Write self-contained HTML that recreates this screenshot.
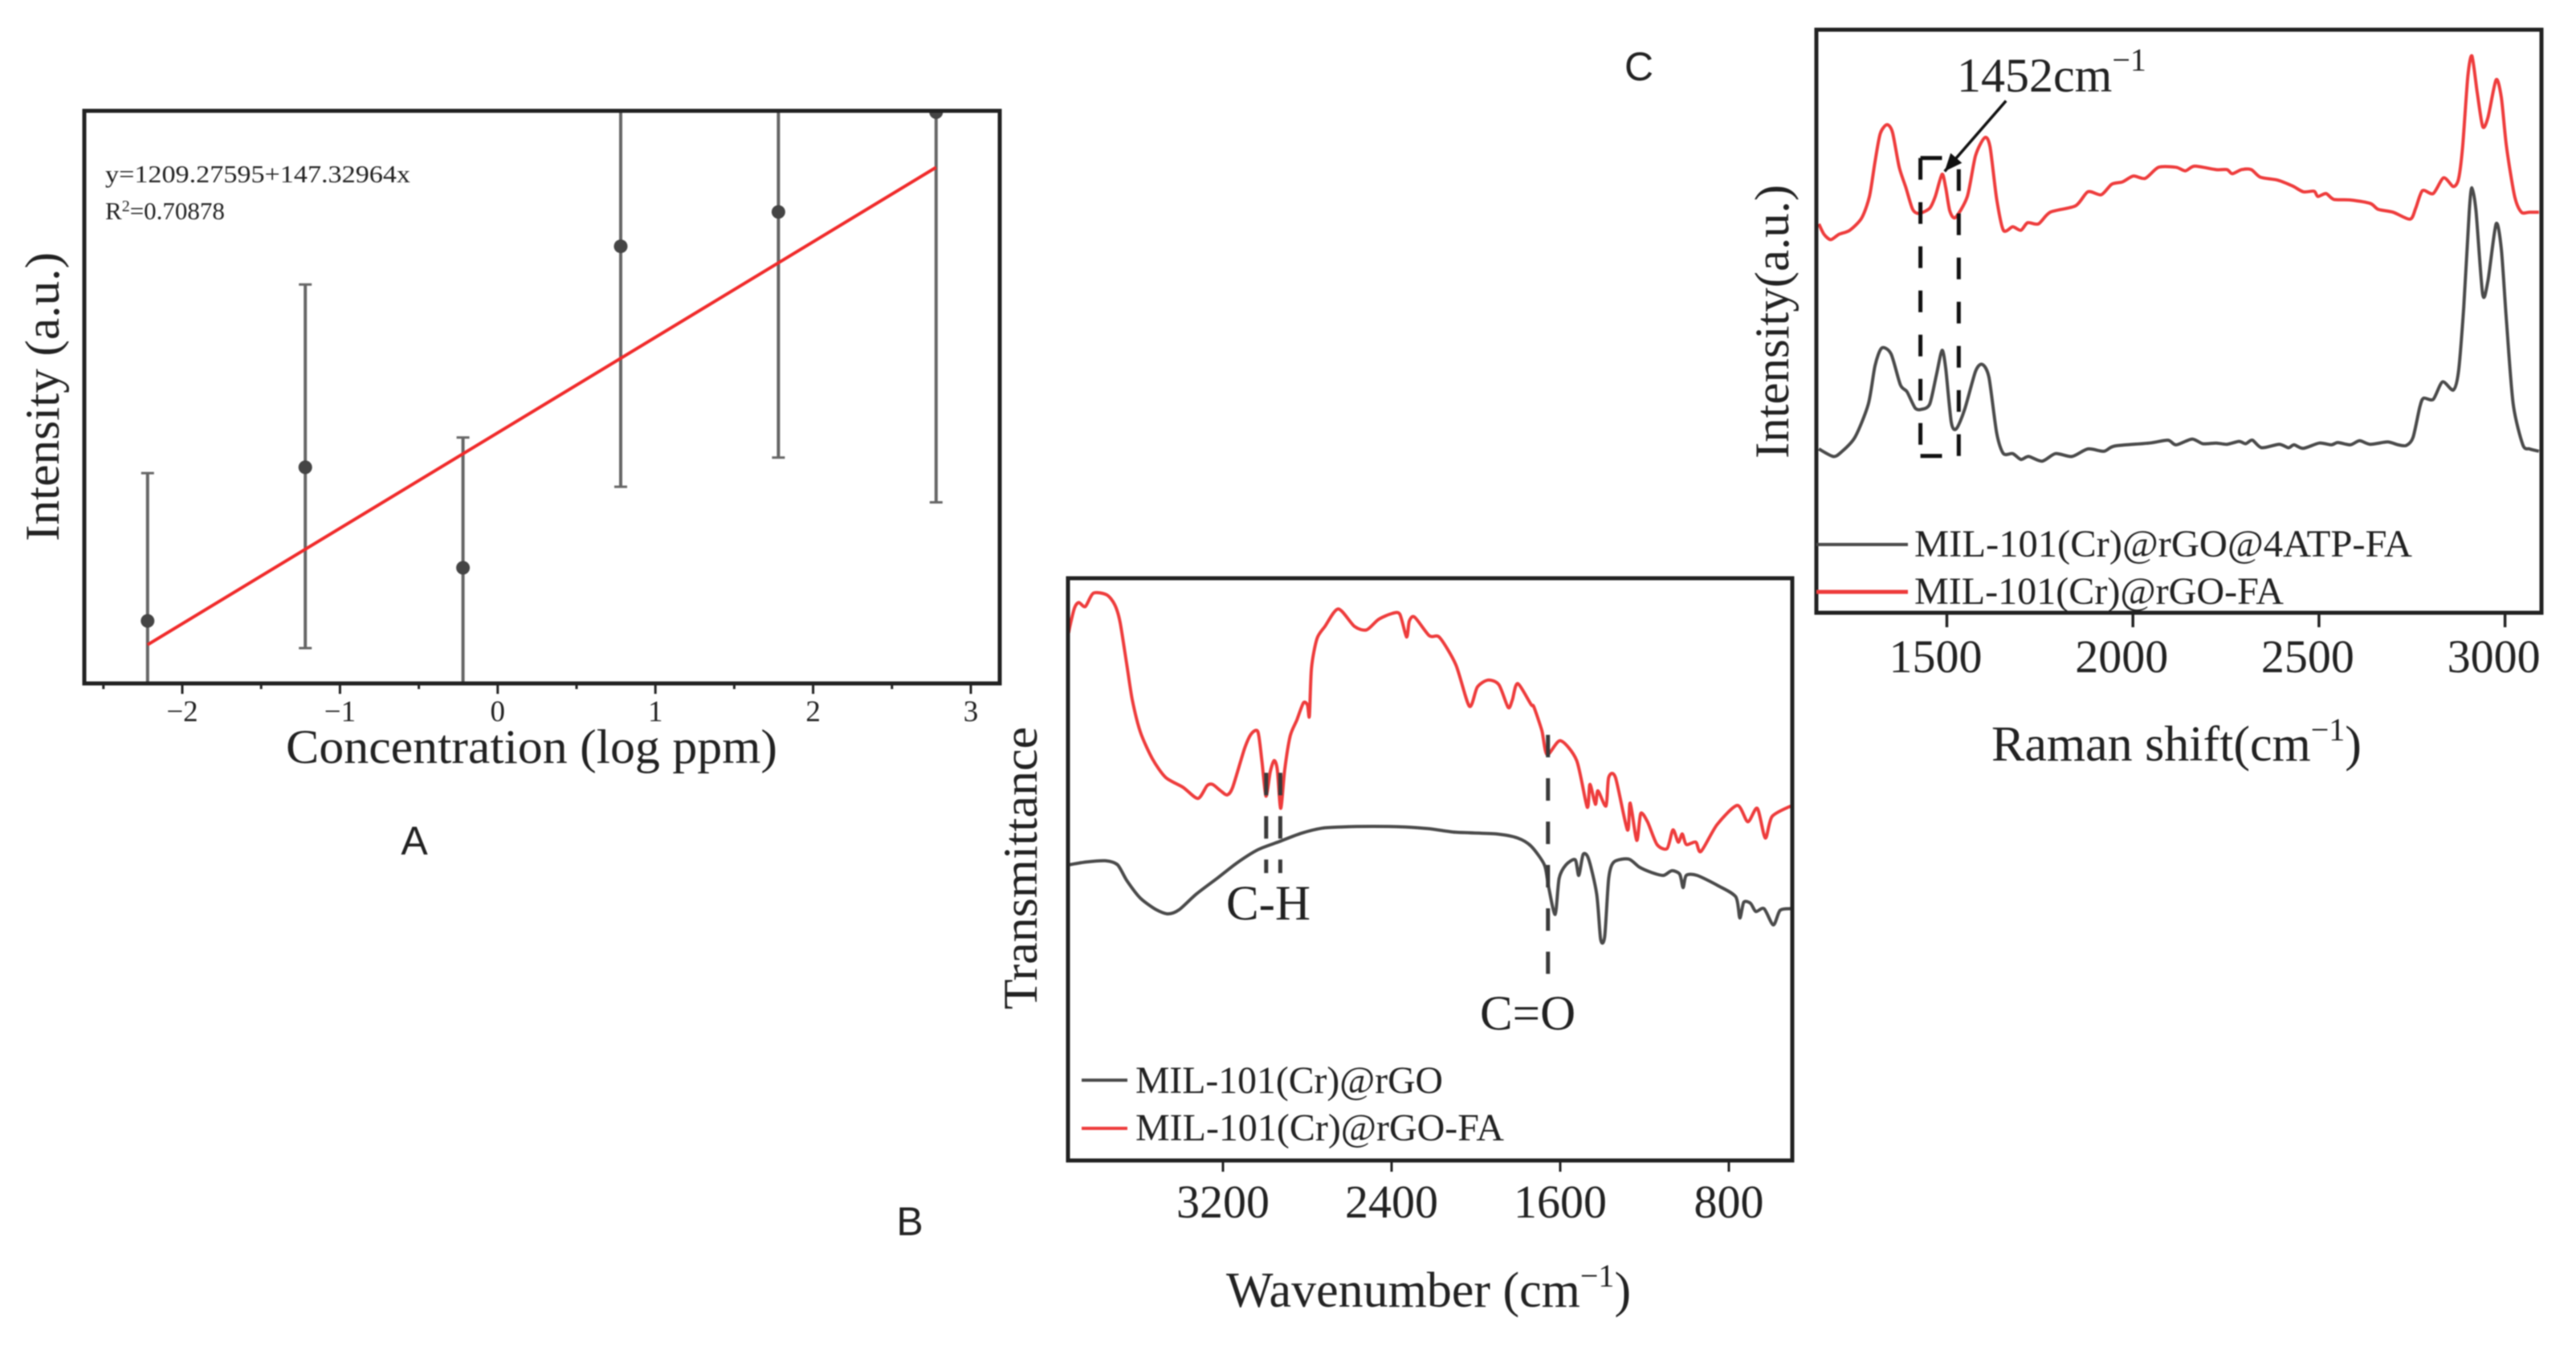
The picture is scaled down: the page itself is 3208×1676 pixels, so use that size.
<!DOCTYPE html>
<html lang="en">
<head>
<meta charset="utf-8">
<title>Panels A, B and C: calibration, FTIR and Raman spectra</title>
<style>
html,body{margin:0;padding:0;background:#fff;}
svg{display:block;filter:blur(0.8px);}
text{font-family:"Liberation Serif",serif;fill:#222;}
.sans{font-family:"Liberation Sans",sans-serif;}
</style>
</head>
<body>
<svg id="fig" xmlns="http://www.w3.org/2000/svg" width="3208" height="1676" viewBox="0 0 3208 1676">
  <rect x="0" y="0" width="3208" height="1676" fill="#fff"/>
  <defs>
    <clipPath id="clipA"><rect x="105" y="138" width="1140" height="713"/></clipPath>
  </defs>

  <g id="panelA">
    <g id="marksA" clip-path="url(#clipA)"></g>
    <g id="ticksA"></g>
    <rect x="105" y="138" width="1140" height="713" fill="none" stroke="#222" stroke-width="5"/>
    <text x="131" y="227" font-size="31" textLength="380" lengthAdjust="spacingAndGlyphs">y=1209.27595+147.32964x</text>
    <text x="131" y="273" font-size="31">R<tspan dy="-10" font-size="20">2</tspan><tspan dy="10">=0.70878</tspan></text>
    <text x="356" y="950" font-size="60" textLength="612" lengthAdjust="spacingAndGlyphs">Concentration (log ppm)</text>
    <text transform="translate(73,674) rotate(-90)" font-size="60" textLength="360" lengthAdjust="spacingAndGlyphs">Intensity (a.u.)</text>
    <text class="sans" x="516" y="1064" font-size="50" text-anchor="middle">A</text>
  </g>

  <g id="panelB">
    <g id="marksB"></g>
    <g id="ticksB"></g>
    <rect x="1330" y="720" width="902" height="725" fill="none" stroke="#222" stroke-width="5"/>
    <text x="1527" y="1145" font-size="61">C-H</text>
    <text x="1843" y="1282" font-size="61">C=O</text>
    <line x1="1347" y1="1345" x2="1404" y2="1345" stroke="#4a4a4a" stroke-width="4"/>
    <text x="1414" y="1361" font-size="48" fill="#333" textLength="383" lengthAdjust="spacingAndGlyphs">MIL-101(Cr)@rGO</text>
    <line x1="1347" y1="1405" x2="1404" y2="1405" stroke="#ee3c3c" stroke-width="4"/>
    <text x="1414" y="1420" font-size="48" fill="#333" textLength="459" lengthAdjust="spacingAndGlyphs">MIL-101(Cr)@rGO-FA</text>
    <text x="1527" y="1627" font-size="62">Wavenumber (cm<tspan dy="-25" font-size="40">−1</tspan><tspan dy="25">)</tspan></text>
    <text transform="translate(1291,1257) rotate(-90)" font-size="60" textLength="352" lengthAdjust="spacingAndGlyphs">Transmittance</text>
    <text class="sans" x="1133" y="1538" font-size="50" text-anchor="middle">B</text>
  </g>

  <g id="panelC">
    <g id="marksC"></g>
    <g id="ticksC"></g>
    <rect x="2262" y="37" width="903" height="726" fill="none" stroke="#222" stroke-width="5"/>
    <text x="2437" y="114" font-size="60">1452cm<tspan dy="-26" font-size="40">−1</tspan></text>
    <line x1="2262" y1="678" x2="2376" y2="678" stroke="#4a4a4a" stroke-width="4"/>
    <text x="2384" y="693" font-size="48" fill="#333" textLength="620" lengthAdjust="spacingAndGlyphs">MIL-101(Cr)@rGO@4ATP-FA</text>
    <line x1="2262" y1="737" x2="2376" y2="737" stroke="#ee3c3c" stroke-width="5"/>
    <text x="2384" y="752" font-size="48" fill="#333" textLength="460" lengthAdjust="spacingAndGlyphs">MIL-101(Cr)@rGO-FA</text>
    <text x="2480" y="947" font-size="62">Raman shift(cm<tspan dy="-25" font-size="40">−1</tspan><tspan dy="25">)</tspan></text>
    <text transform="translate(2227,571) rotate(-90)" font-size="60" textLength="341" lengthAdjust="spacingAndGlyphs">Intensity(a.u.)</text>
    <text class="sans" x="2041" y="100" font-size="50" text-anchor="middle">C</text>
  </g>
</svg>

<script>
// Panel A data
const aConcentration = [-2.22, -1.22, -0.22, 0.78, 1.78, 2.78];
const aIntensity = [919, 1156, 1001, 1497, 1550, 1704];
const aErrLow = [690, 877, 800, 1126, 1171, 1102];
const aErrHigh = [1147, 1438, 1202, 1868, 1929, 2306];
const aFitIntercept = 1209.27595;
const aFitSlope = 147.32964;
const aMajorTicks = [-2, -1, 0, 1, 2, 3];
const aMinorTicks = [-2.5, -1.5, -0.5, 0.5, 1.5, 2.5];
const aTickLabels = ['−2', '−1', '0', '1', '2', '3'];

// Panel B data
const bTicks = [3200, 2400, 1600, 800];
const bTickLabels = ['3200', '2400', '1600', '800'];
const bWaveRed = [3932,3925,3904,3884,3853,3815,3751,3713,3688,3656,3630,3592,3535,3472,3389,3319,3275,3249,3211,3180,3154,3097,3065,3034,3015,2996,2976,2957,2942,2926,2907,2881,2850,2818,2799,2790,2780,2754,2716,2653,2576,2519,2462,2399,2361,2329,2316,2291,2221,2172,2095,2031,1993,1942,1891,1847,1827,1802,1738,1725,1687,1662,1599,1522,1472,1459,1433,1421,1383,1370,1338,1281,1268,1237,1218,1186,1141,1093,1065,1040,1021,1002,957,932,856,760,710,665,627,595,506];
const bTransRed = [90.5,91.8,94.8,95.7,95.0,97.3,97.0,95.3,92.3,85.0,79.0,73.5,68.9,65.7,64.0,62.1,64.3,64.5,63.4,62.7,64.0,70.7,73.2,73.5,68.4,62.5,66.6,68.6,67.0,60.4,67.0,72.8,75.5,78.5,78.1,76.2,84.5,89.5,91.6,94.6,91.6,91.0,92.8,93.8,93.7,89.8,92.5,93.2,90.0,89.7,85.0,77.9,81.2,82.4,81.6,77.7,79.0,81.8,78.2,77.8,73.7,69.6,72.0,68.6,60.6,64.5,61.1,63.4,60.8,65.7,65.7,56.7,61.3,54.9,59.5,58.1,54.2,53.5,56.7,54.6,56.0,54.2,54.6,53.0,57.6,60.9,58.1,60.4,55.3,59.0,60.8];
const bWaveGray = [3931,3846,3758,3700,3656,3592,3516,3459,3408,3326,3224,3135,3034,2932,2830,2729,2640,2488,2335,2221,2094,1903,1802,1738,1675,1656,1624,1605,1573,1529,1512,1491,1465,1427,1408,1389,1370,1345,1275,1224,1167,1110,1071,1033,1017,1002,951,849,767,748,729,697,672,633,589,557,506];
const bTransGray = [50.7,51.2,51.4,50.7,48.0,45.0,43.0,42.3,43.0,45.7,48.5,51.0,53.3,54.7,56.1,57.0,57.2,57.3,57.2,56.9,56.3,56.0,55.3,53.9,50.7,47.1,42.2,48.4,50.7,51.6,48.9,52.5,51.7,45.7,37.9,38.4,48.4,51.2,51.7,50.3,49.4,48.9,49.7,49.1,46.8,48.9,48.9,47.1,45.2,41.6,44.3,44.1,42.7,43.2,40.4,42.9,43.2];
const bGuideWaves = [2995, 2928, 1658];
const bGuideTop = [66.5, 66.5, 73.0];
const bGuideBottom = [49.3, 49.3, 32.0];

// Panel C data
const cTicks = [1500, 2000, 2500, 3000];
const cTickLabels = ['1500', '2000', '2500', '3000'];
const cShiftRed = [1156,1170,1188,1210,1239,1271,1292,1307,1321,1339,1354,1372,1390,1408,1426,1454,1469,1487,1497,1508,1523,1555,1577,1602,1616,1634,1652,1677,1699,1717,1746,1778,1846,1879,1915,1943,1972,2001,2033,2069,2116,2141,2166,2224,2253,2267,2292,2318,2343,2389,2429,2458,2487,2497,2519,2540,2584,2638,2659,2699,2745,2760,2778,2807,2835,2861,2875,2886,2900,2911,2925,2940,2954,2976,2990,3004,3026,3044,3066,3091];
const cIntensityRed = [66.7,64.9,64.0,64.9,65.6,67.7,71.4,77.4,82.2,83.7,82.4,76.4,72.9,69.2,68.5,69.4,71.4,75.2,72.9,68.9,67.8,71.4,78.4,81.5,79.9,70.9,65.6,66.2,65.6,66.9,66.7,68.7,69.8,72.2,71.7,73.5,73.9,74.9,74.5,76.4,76.4,75.8,76.6,76.0,76.0,75.3,76.0,76.0,74.7,74.2,73.2,72.2,72.3,71.4,71.9,70.9,70.8,70.2,69.2,68.7,67.5,69.4,72.4,71.9,74.6,73.1,74.4,79.9,92.0,95.5,89.4,83.4,84.9,91.4,88.4,79.9,71.4,68.7,68.7,68.7];
const cShiftGray = [1156,1195,1217,1253,1289,1307,1325,1350,1375,1393,1415,1433,1454,1472,1487,1497,1512,1526,1548,1577,1595,1613,1634,1652,1677,1699,1720,1756,1792,1836,1879,1922,1951,2044,2094,2116,2159,2188,2224,2253,2285,2303,2321,2346,2393,2418,2433,2458,2501,2533,2551,2584,2609,2638,2684,2713,2735,2753,2771,2781,2807,2832,2861,2875,2889,2904,2911,2922,2940,2954,2976,2990,3004,3022,3048,3066,3091];
const cIntensityGray = [28.1,26.8,27.6,30.1,35.8,42.4,45.4,44.4,39.1,37.9,35.1,34.9,35.8,40.8,45.0,41.9,32.6,31.6,34.9,41.4,42.6,40.4,30.8,27.3,27.3,26.3,26.8,26.0,27.3,26.8,28.1,27.7,28.6,29.1,29.6,28.8,29.8,29.0,29.1,28.9,29.4,29.0,29.6,28.3,28.9,28.3,28.8,28.2,29.1,28.8,29.2,28.8,29.5,28.9,29.3,28.8,28.7,30.1,35.3,36.8,36.6,39.6,38.2,41.4,52.4,68.9,72.9,68.9,54.6,56.9,66.7,62.4,49.9,35.8,28.8,28.1,27.7];
const cBoxLeft = 1429;
const cBoxRight = 1532;
const cBoxTop = 78.0;
const cBoxBottom = 26.9;
const cBoxCapEnd = 1487;
const cArrowStart = [1659, 87.8];
const cArrowEnd = [1494, 75.7];

// Axis functions
const xA = v => 227 + (v + 2) * 196.4;
const yA = v => 803 - (v - 882) * 0.807;
const xB = v => 1523 + (3200 - v) * 0.2625;
const yB = v => 1445 - v * 7.26;
const xC = v => 2424.5 + (v - 1500) * 0.4634;
const yC = v => 763 - v * 7.26;

const NS = 'http://www.w3.org/2000/svg';
function make(tag, attrs, parent) {
  const node = document.createElementNS(NS, tag);
  for (const k in attrs) node.setAttribute(k, attrs[k]);
  parent.appendChild(node);
  return node;
}
function smoothPath(xs, ys, fx, fy) {
  const pts = xs.map((x, i) => [fx(x), fy(ys[i])]);
  const k = 0.13;
  let d = 'M' + pts[0][0].toFixed(1) + ' ' + pts[0][1].toFixed(1);
  for (let i = 0; i < pts.length - 1; i++) {
    const p0 = pts[Math.max(i - 1, 0)], p1 = pts[i], p2 = pts[i + 1], p3 = pts[Math.min(i + 2, pts.length - 1)];
    d += 'C' + (p1[0] + (p2[0] - p0[0]) * k).toFixed(1) + ' ' + (p1[1] + (p2[1] - p0[1]) * k).toFixed(1) + ' ' +
      (p2[0] - (p3[0] - p1[0]) * k).toFixed(1) + ' ' + (p2[1] - (p3[1] - p1[1]) * k).toFixed(1) + ' ' +
      p2[0].toFixed(1) + ' ' + p2[1].toFixed(1);
  }
  return d;
}

// Panel A marks
const marksA = document.getElementById('marksA');
aConcentration.forEach((x, i) => {
  const bar = make('line', {x1: xA(x), x2: xA(x), y1: yA(aErrLow[i]), y2: yA(aErrHigh[i]), stroke: '#666', 'stroke-width': 4}, marksA);
  
  
  const capTop = make('line', {x1: xA(x) - 8, x2: xA(x) + 8, y1: yA(aErrHigh[i]), y2: yA(aErrHigh[i]), stroke: '#666', 'stroke-width': 3}, marksA);
  
  
  const capLow = make('line', {x1: xA(x) - 8, x2: xA(x) + 8, y1: yA(aErrLow[i]), y2: yA(aErrLow[i]), stroke: '#666', 'stroke-width': 3}, marksA);
  
  
  const dot = make('circle', {cx: xA(x), cy: yA(aIntensity[i]), r: 8.5, fill: '#454545'}, marksA);
  
  
});
const fitX0 = aConcentration[0];
const fitX1 = aConcentration[aConcentration.length - 1];
const fitLine = make('line', {x1: xA(fitX0), y1: yA(aFitIntercept + aFitSlope * fitX0), x2: xA(fitX1), y2: yA(aFitIntercept + aFitSlope * fitX1), stroke: '#f02a2a', 'stroke-width': 4}, marksA);



const ticksA = document.getElementById('ticksA');
aMajorTicks.forEach((v, i) => {
  const t = make('line', {x1: xA(v), x2: xA(v), y1: 851, y2: 864, stroke: '#222', 'stroke-width': 3}, ticksA);
  
  
  const label = make('text', {x: xA(v), y: 898, 'font-size': 37, 'text-anchor': 'middle'}, ticksA);
  label.textContent = aTickLabels[i];
  
  
});
aMinorTicks.forEach(v => {
  const t = make('line', {x1: xA(v), x2: xA(v), y1: 851, y2: 858, stroke: '#222', 'stroke-width': 3}, ticksA);
  
  
});

// Panel B marks
const marksB = document.getElementById('marksB');
const bGray = make('path', {d: smoothPath(bWaveGray, bTransGray, xB, yB), fill: 'none', stroke: '#4a4a4a', 'stroke-width': 4, 'stroke-linejoin': 'round'}, marksB);


const bRed = make('path', {d: smoothPath(bWaveRed, bTransRed, xB, yB), fill: 'none', stroke: '#ee3c3c', 'stroke-width': 4, 'stroke-linejoin': 'round'}, marksB);


bGuideWaves.forEach((w, i) => {
  const g = make('line', {x1: xB(w), x2: xB(w), y1: yB(bGuideTop[i]), y2: yB(bGuideBottom[i]), stroke: '#3a3a3a', 'stroke-width': 5, 'stroke-dasharray': '28 26'}, marksB);
  
  
});
const ticksB = document.getElementById('ticksB');
bTicks.forEach((v, i) => {
  const t = make('line', {x1: xB(v), x2: xB(v), y1: 1445, y2: 1459, stroke: '#222', 'stroke-width': 3}, ticksB);
  
  
  const label = make('text', {x: xB(v), y: 1516, 'font-size': 58, 'text-anchor': 'middle'}, ticksB);
  label.textContent = bTickLabels[i];
  
  
});

// Panel C marks
const marksC = document.getElementById('marksC');
const cGray = make('path', {d: smoothPath(cShiftGray, cIntensityGray, xC, yC), fill: 'none', stroke: '#4a4a4a', 'stroke-width': 4, 'stroke-linejoin': 'round'}, marksC);


const cRed = make('path', {d: smoothPath(cShiftRed, cIntensityRed, xC, yC), fill: 'none', stroke: '#ee3c3c', 'stroke-width': 4, 'stroke-linejoin': 'round'}, marksC);



const boxLeft = make('line', {x1: xC(cBoxLeft), x2: xC(cBoxLeft), y1: yC(cBoxTop), y2: yC(cBoxBottom), stroke: '#111', 'stroke-width': 5, 'stroke-dasharray': '27 28'}, marksC);


const boxRight = make('line', {x1: xC(cBoxRight), x2: xC(cBoxRight), y1: yC(cBoxBottom), y2: yC(cBoxTop), stroke: '#111', 'stroke-width': 5, 'stroke-dasharray': '27 28'}, marksC);


const boxTop = make('line', {x1: xC(cBoxLeft), x2: xC(cBoxCapEnd), y1: yC(cBoxTop), y2: yC(cBoxTop), stroke: '#111', 'stroke-width': 5}, marksC);


const boxBottom = make('line', {x1: xC(cBoxLeft), x2: xC(cBoxCapEnd), y1: yC(cBoxBottom), y2: yC(cBoxBottom), stroke: '#111', 'stroke-width': 5}, marksC);



const ax0 = xC(cArrowStart[0]), ay0 = yC(cArrowStart[1]), ax1 = xC(cArrowEnd[0]), ay1 = yC(cArrowEnd[1]);
const arrowLine = make('line', {x1: ax0, y1: ay0, x2: ax1, y2: ay1, stroke: '#111', 'stroke-width': 3.5}, marksC);


const ang = Math.atan2(ay1 - ay0, ax1 - ax0);
const headPts = [[ax1, ay1], [ax1 - 24 * Math.cos(ang - 0.4), ay1 - 24 * Math.sin(ang - 0.4)], [ax1 - 24 * Math.cos(ang + 0.4), ay1 - 24 * Math.sin(ang + 0.4)]];
const arrowHead = make('polygon', {points: headPts.map(p => p[0].toFixed(1) + ',' + p[1].toFixed(1)).join(' '), fill: '#111'}, marksC);



const ticksC = document.getElementById('ticksC');
cTicks.forEach((v, i) => {
  const t = make('line', {x1: xC(v), x2: xC(v), y1: 763, y2: 781, stroke: '#222', 'stroke-width': 3.5}, ticksC);
  
  
  const label = make('text', {x: xC(v) - 14, y: 837, 'font-size': 58, 'text-anchor': 'middle'}, ticksC);
  label.textContent = cTickLabels[i];
  
  
});
</script>
</body>
</html>
